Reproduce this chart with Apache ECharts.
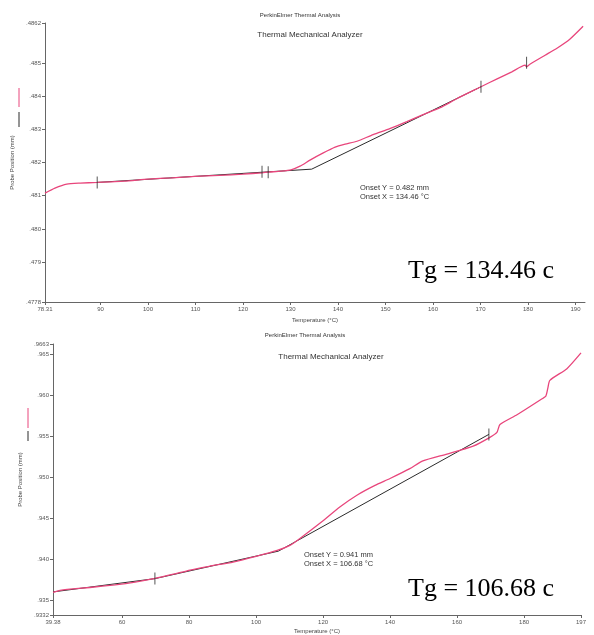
<!DOCTYPE html>
<html>
<head>
<meta charset="utf-8">
<script src="https://cdn.jsdelivr.net/npm/echarts@6/dist/echarts.min.js"></script>
<style>
  html, body { margin: 0; padding: 0; background: #fff; }
  #chart { width: 594px; height: 635px; }
</style>
</head>
<body>
<div id="chart"></div>
<script>
// ---- Run 1: probe position vs temperature (upper plot) ----
const run1Probe = [
  [78.31, 0.48108], [80.4, 0.48123], [82.9, 0.48135], [85.7, 0.48138], [89.3, 0.48140],
  [95.0, 0.48144], [100.0, 0.48150], [105.0, 0.48154], [109.9, 0.48158], [115.0, 0.48161],
  [120.0, 0.48165], [124.0, 0.48169], [125.3, 0.48171], [128.0, 0.48174], [130.1, 0.48178],
  [132.0, 0.48189], [134.1, 0.48207], [136.8, 0.48228], [139.4, 0.48246], [141.5, 0.48255],
  [144.0, 0.48264], [147.4, 0.48284], [150.9, 0.48302], [154.5, 0.48323], [157.9, 0.48344],
  [161.5, 0.48365], [165.0, 0.48392], [170.1, 0.48428], [173.5, 0.48452], [176.6, 0.48473],
  [179.4, 0.48493], [179.7, 0.48488], [180.4, 0.48496], [183.6, 0.48523], [186.1, 0.48544],
  [188.8, 0.48571], [191.6, 0.48610]
];
// onset construction: baseline tangent and transition tangent
const run1Tangent = [[89.3, 0.48140], [134.46, 0.48180], [170.1, 0.48428]];
const run1Marks = [[89.3, 0.48140], [124.0, 0.48172], [125.3, 0.48171], [170.1, 0.48428], [179.7, 0.48500]];
const run1XTicks = [78.31, 90, 100, 110, 120, 130, 140, 150, 160, 170, 180, 190];
const run1XLabels = ['78.31', '90', '100', '110', '120', '130', '140', '150', '160', '170', '180', '190'];
const run1YTicks = [0.4778, 0.479, 0.480, 0.481, 0.482, 0.483, 0.484, 0.485, 0.4862];
const run1YLabels = ['.4778', '.479', '.480', '.481', '.482', '.483', '.484', '.485', '.4862'];
const run1Range = { xMin: 78.31, xMax: 192, yMin: 0.4778, yMax: 0.4862 };
const run1Onset = ['Onset Y = 0.482 mm', 'Onset X = 134.46 °C'];
const run1Tg = 'Tg = 134.46 c';

// ---- Run 2: probe position vs temperature (lower plot) ----
const run2Probe = [
  [39.38, 0.93596], [41.5, 0.93620], [43.6, 0.93632], [50.4, 0.93656], [57.9, 0.93688],
  [63.9, 0.93722], [69.8, 0.93767], [75.0, 0.93815], [80.3, 0.93868], [86.0, 0.93915],
  [93.1, 0.93967], [100.0, 0.94036], [106.3, 0.94108], [110.1, 0.94171], [113.1, 0.94255],
  [120.0, 0.94471], [125.0, 0.94639], [130.1, 0.94783], [135.5, 0.94903], [140.0, 0.94987],
  [145.9, 0.95107], [149.8, 0.95202], [157.0, 0.95286], [164.8, 0.95382], [169.8, 0.95490],
  [171.9, 0.95550], [172.8, 0.95646], [177.9, 0.95766], [184.8, 0.95946], [186.5, 0.95994],
  [187.1, 0.96090], [187.7, 0.96186], [192.8, 0.96329], [197.0, 0.96521]
];
const run2Tangent = [[39.38, 0.93602], [69.8, 0.93764], [106.68, 0.94100], [169.5, 0.95526]];
const run2Marks = [[69.8, 0.93767], [169.5, 0.95526]];
const run2XTicks = [39.38, 60, 80, 100, 120, 140, 160, 180, 197];
const run2XLabels = ['39.38', '60', '80', '100', '120', '140', '160', '180', '197'];
const run2YTicks = [0.9332, 0.935, 0.940, 0.945, 0.950, 0.955, 0.960, 0.965, 0.9663];
const run2YLabels = ['.9332', '.935', '.940', '.945', '.950', '.955', '.960', '.965', '.9663'];
const run2Range = { xMin: 39.38, xMax: 197, yMin: 0.9332, yMax: 0.9663 };
const run2Onset = ['Onset Y = 0.941 mm', 'Onset X = 106.68 °C'];
const run2Tg = 'Tg = 106.68 c';

// ---- styling ----
const SANS = '"Liberation Sans", Arial, sans-serif';
const SERIF = '"Liberation Serif", "Times New Roman", serif';
const PINK = '#e8467c';
const INK = '#2b2b2b';
const AXIS = '#666';

function lookup(ticks, labels) {
  return function (v) {
    const i = ticks.findIndex(t => Math.abs(t - v) < 1e-9);
    return i >= 0 ? labels[i] : '';
  };
}

function xAxisFor(gridIndex, range, ticks, labels, nameGap) {
  return {
    type: 'value', gridIndex, min: range.xMin, max: range.xMax,
    name: 'Temperature (°C)', nameLocation: 'middle', nameGap,
    nameTextStyle: { fontFamily: SANS, fontSize: 6, color: '#444' },
    axisLine: { onZero: false, lineStyle: { color: AXIS, width: 1 } },
    axisTick: { customValues: ticks, length: 3, lineStyle: { color: AXIS } },
    axisLabel: { customValues: ticks, formatter: lookup(ticks, labels), fontFamily: SANS, fontSize: 6, color: '#555', margin: 4 },
    splitLine: { show: false }
  };
}

function yAxisFor(gridIndex, range, ticks, labels, nameGap) {
  return {
    type: 'value', gridIndex, min: range.yMin, max: range.yMax,
    name: 'Probe Position (mm)', nameLocation: 'middle', nameGap, nameRotate: 90,
    nameTextStyle: { fontFamily: SANS, fontSize: 6, color: '#444' },
    axisLine: { show: true, onZero: false, lineStyle: { color: AXIS, width: 1 } },
    axisTick: { show: true, customValues: ticks, length: 3, lineStyle: { color: AXIS } },
    axisLabel: { customValues: ticks, formatter: lookup(ticks, labels), fontFamily: SANS, fontSize: 6, color: '#555', margin: 4 },
    splitLine: { show: false }
  };
}

function seriesFor(idx, probe, tangent, marks) {
  return [
    { type: 'line', xAxisIndex: idx, yAxisIndex: idx, data: tangent, showSymbol: false, silent: true,
      lineStyle: { color: INK, width: 1 }, z: 2 },
    { type: 'line', xAxisIndex: idx, yAxisIndex: idx, data: probe, showSymbol: false, silent: true,
      smooth: 0.2, lineStyle: { color: PINK, width: 1.3 }, z: 3 },
    { type: 'scatter', xAxisIndex: idx, yAxisIndex: idx, data: marks, symbol: 'rect', symbolSize: [1, 12],
      itemStyle: { color: INK }, silent: true, z: 4 }
  ];
}

function text(x, y, str, font, align, vAlign, fill) {
  return { type: 'text', silent: true, style: { x, y, text: str, font, textAlign: align, textVerticalAlign: vAlign, align, verticalAlign: vAlign, fill: fill || '#333' } };
}
function seg(x, y1, y2, color) {
  return { type: 'line', silent: true, shape: { x1: x, y1, x2: x, y2 }, style: { stroke: color, lineWidth: 1 } };
}

const chart = echarts.init(document.getElementById('chart'), null, { renderer: 'canvas' });
chart.setOption({
  animation: false,
  backgroundColor: '#fff',
  grid: [
    { left: 45, right: 9, top: 23, bottom: 333 },
    { left: 53, right: 13, top: 344, bottom: 16 }
  ],
  xAxis: [
    xAxisFor(0, run1Range, run1XTicks, run1XLabels, 15),
    xAxisFor(1, run2Range, run2XTicks, run2XLabels, 13)
  ],
  yAxis: [
    yAxisFor(0, run1Range, run1YTicks, run1YLabels, 25),
    yAxisFor(1, run2Range, run2YTicks, run2YLabels, 23)
  ],
  series: [
    ...seriesFor(0, run1Probe, run1Tangent, run1Marks),
    ...seriesFor(1, run2Probe, run2Tangent, run2Marks)
  ],
  graphic: [
    // upper plot headings and notes
    text(300, 15, 'PerkinElmer Thermal Analysis', '6px ' + SANS, 'center', 'middle'),
    text(310, 35, 'Thermal Mechanical Analyzer', '8px ' + SANS, 'center', 'middle'),
    text(360, 188, run1Onset[0], '7.5px ' + SANS, 'left', 'middle'),
    text(360, 196.5, run1Onset[1], '7.5px ' + SANS, 'left', 'middle'),
    text(408, 258, run1Tg, '26px ' + SERIF, 'left', 'alphabetic', '#000'),
    seg(19, 88, 107, PINK),
    seg(19, 112, 127, INK),
    // lower plot headings and notes
    text(305, 335, 'PerkinElmer Thermal Analysis', '6px ' + SANS, 'center', 'middle'),
    text(331, 357, 'Thermal Mechanical Analyzer', '8px ' + SANS, 'center', 'middle'),
    text(304, 555, run2Onset[0], '7.5px ' + SANS, 'left', 'middle'),
    text(304, 563.5, run2Onset[1], '7.5px ' + SANS, 'left', 'middle'),
    text(408, 576, run2Tg, '26px ' + SERIF, 'left', 'alphabetic', '#000'),
    seg(28, 408, 428, PINK),
    seg(28, 431, 441, INK)
  ]
});
</script>
</body>
</html>
